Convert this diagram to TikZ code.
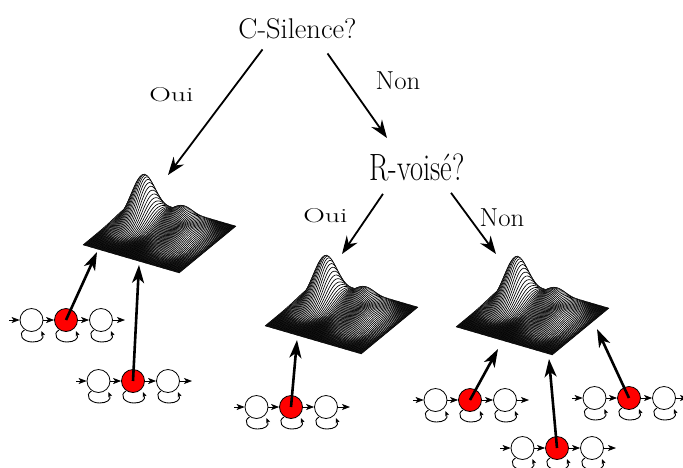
\documentclass[tikz,border=0pt]{standalone}
\usetikzlibrary{arrows.meta}
\tikzset{
  big/.style={-{Stealth[length=18pt,width=13pt,inset=6pt]},line width=1.8pt},
  hmmarrow/.style={-{Stealth[length=18pt,width=12pt,inset=5pt]},line width=2.6pt},
  small/.style={-{Stealth[length=8pt,width=6pt,inset=2pt]},line width=.7pt},
  loopline/.style={-{Stealth[length=5pt,width=4pt,inset=1.2pt]},line width=.9pt},
  state/.style={circle,draw,line width=.8pt,minimum size=23pt,inner sep=0pt,fill=white},
  lab/.style={inner sep=0pt,anchor=center},
  pics/hmm/.style={code={
    \node[state] (-a) at (-34.5,0) {};
    \node[state,fill=red] (-b) at (0,0) {};
    \node[state] (-c) at (35,0) {};
    \coordinate (-in) at (-57,0);
    \coordinate (-out) at (59,0);
    \draw[small] (-in) -- (-a);
    \draw[small] (-a) -- (-b);
    \draw[small] (-b) -- (-c);
    \draw[small] (-c) -- (-out);
    \foreach \n in {a,b,c}{
      \draw[loopline] ([shift={(-7,10)}]-\n.center) .. controls +(-7,4) and +(-10,0) .. ([shift={(1,22)}]-\n.center) .. controls +(7,0) and +(3,8) .. ([shift={(10,11)}]-\n.center);
    }
  }},
  pics/surf/.style={code={
    \fill (0,0) -- (57,-47) -- (153,-19) -- (96,28) -- cycle;
    \foreach \u in {0,0.0125,...,1.001}{
      \filldraw[fill=white,draw=black,line width=.65pt]
        plot[domain=0:1,samples=32,variable=\v,smooth]
        ({96*\u+57*\v},{28*\u-47*\v-(43*exp(-((\u-.2)/.115)^2-((\v-.72)/.24)^2)+16*exp(-((\u-.52)/.14)^2-((\v-.88)/.26)^2)+10*exp(-((\u-.72)/.14)^2-((\v-.55)/.24)^2)+2*exp(-((\u-.95)/.05)^2-((\v-.5)/.3)^2))*(1-(\v)^12)*(1-(\u)^10)});
    }
  }}
}
\begin{document}
\begin{tikzpicture}[x=1pt,y=-1pt]
\useasboundingbox (0,0) rectangle (683,467);
\clip (0,0) rectangle (683,467);
% surfaces
\pic (s1) at (83,245) {surf};
\pic (s2) at (265,326) {surf};
\pic (s3) at (456,327) {surf};
\coordinate (s1in) at (97,252);
\coordinate (s1inb) at (139,265);
\coordinate (s2in) at (297,340);
\coordinate (s3in) at (498,349);
\coordinate (s3inb) at (549,359);
\coordinate (s3inc) at (597,329);
\coordinate (s1top) at (168,175);
\coordinate (s2top) at (342,254);
\coordinate (s3top) at (496,254);
\coordinate (q2in) at (387,138);
% questions
\node[lab,font=\fontsize{28.5}{28.5}\selectfont] (q1) at (297.5,29) {C-Silence?};
\node[lab,font=\fontsize{38}{38}\selectfont,xscale=.75] (q2) at (417,167) {R-voisé?};
% labels
\node[lab,font=\fontsize{20}{20}\selectfont,xscale=1.5] (o1) at (171.5,95) {Oui};
\node[lab,font=\fontsize{26}{26}\selectfont,xscale=1.03] (n1) at (398,81) {Non};
\node[lab,font=\fontsize{20}{20}\selectfont,xscale=1.5] (o2) at (325.5,216) {Oui};
\node[lab,font=\fontsize{26}{26}\selectfont,xscale=1.03] (n2) at (502,218) {Non};
% tree arrows
\draw[big] ([shift={(-35,10)}]q1.south) -- (s1top);
\draw[big] ([shift={(30,14)}]q1.south) -- (q2in);
\draw[big] ([shift={(-34,13)}]q2.south) -- (s2top);
\draw[big] ([shift={(34,12)}]q2.south) -- (s3top);
% hmm chains
\pic (h1) at (66,320) {hmm};
\pic (h2) at (133,381) {hmm};
\pic (h3) at (291,407) {hmm};
\pic (h4) at (470,400) {hmm};
\pic (h5) at (629,398) {hmm};
\pic (h6) at (557,448) {hmm};
\draw[hmmarrow] (h1-b.center) -- (s1in);
\draw[hmmarrow] (h2-b.center) -- (s1inb);
\draw[hmmarrow] (h3-b.center) -- (s2in);
\draw[hmmarrow] (h4-b.center) -- (s3in);
\draw[hmmarrow] (h6-b.center) -- (s3inb);
\draw[hmmarrow] (h5-b.center) -- (s3inc);
\end{tikzpicture}
\end{document}
